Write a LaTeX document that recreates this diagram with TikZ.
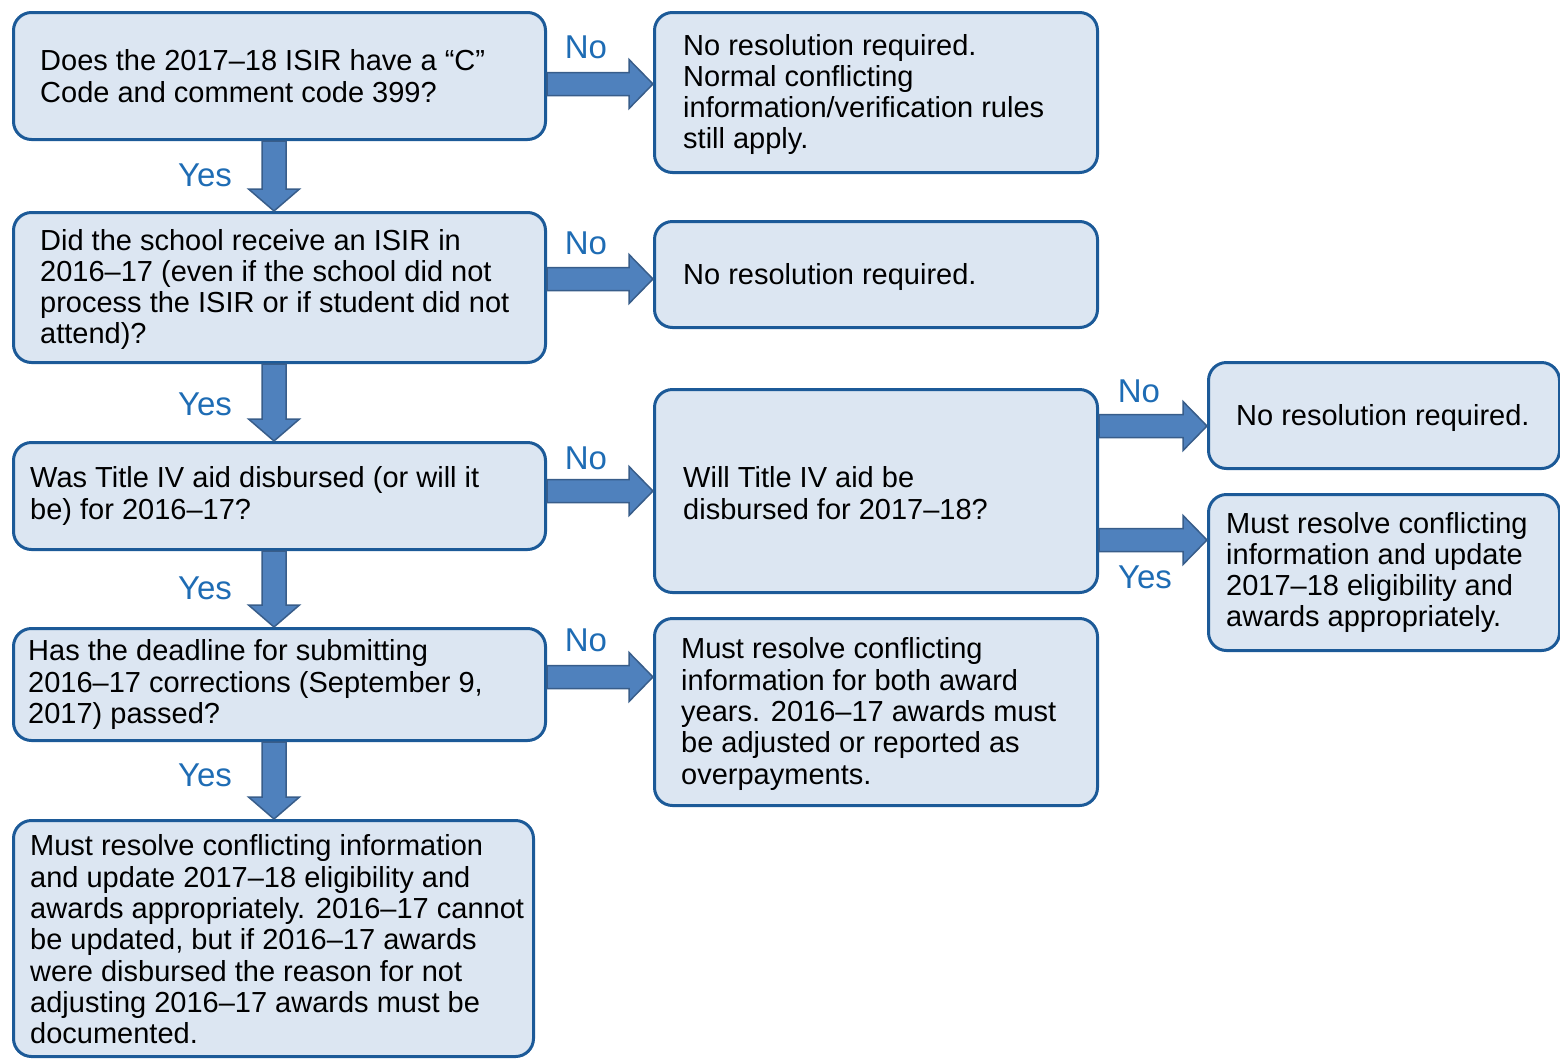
\documentclass[tikz,border=0pt]{standalone}
\usepackage{fontspec}
\setmainfont{Liberation Sans}
\usetikzlibrary{calc}
\definecolor{boxfill}{RGB}{220,230,242}
\definecolor{boxline}{RGB}{28,90,152}
\definecolor{arrfill}{RGB}{79,129,189}
\definecolor{arrline}{RGB}{56,93,138}
\definecolor{lblblue}{RGB}{30,108,180}
\tikzset{
 box/.style={draw=boxline, fill=boxfill, line width=3pt, rounded corners=18pt, inner sep=0pt, anchor=north west},
 txt/.style={anchor=west, align=left, inner sep=0pt, font=\fontsize{29}{31.3}\selectfont, text=black},
 lbl/.style={inner sep=0pt, font=\fontsize{33}{36}\selectfont, text=lblblue},
 barrow/.style={draw=arrline, fill=arrfill, line width=1.5pt, line join=miter},
}
\newcommand\harrow[3]{%
 \path (#1.east |- 0,#3) coordinate (hs) (#2.west |- 0,#3) coordinate (he);
 \draw[barrow] ($(hs)+(0,-11.5)$) -- ($(he)+(-24,-11.5)$) -- ($(he)+(-24,-24.5)$) -- (he) -- ($(he)+(-24,24.5)$) -- ($(he)+(-24,11.5)$) -- ($(hs)+(0,11.5)$) -- cycle;}
\newcommand\varrow[3]{%
 \path (#1.south -| #3,0) coordinate (vs) (#2.north -| #3,0) coordinate (ve);
 \draw[barrow] ($(vs)+(-12,0)$) -- ($(ve)+(-12,-22)$) -- ($(ve)+(-25.5,-22)$) -- (ve) -- ($(ve)+(25.5,-22)$) -- ($(ve)+(12,-22)$) -- ($(vs)+(12,0)$) -- cycle;}
\begin{document}
\begin{tikzpicture}[x=1pt,y=-1pt]
\useasboundingbox (0,0) rectangle (1560,1058);
% boxes
\node[box, minimum width=532pt, minimum height=127pt] (b1) at (12,11) {};
\node[box, minimum width=443pt, minimum height=160pt] (n1) at (653,11) {};
\node[box, minimum width=532pt, minimum height=150pt] (b2) at (12,211) {};
\node[box, minimum width=443pt, minimum height=106pt] (n2) at (653,220) {};
\node[box, minimum width=532pt, minimum height=107pt] (b3) at (12,441) {};
\node[box, minimum width=443pt, minimum height=203pt] (w) at (653,388) {};
\node[box, minimum width=351pt, minimum height=106pt] (r1) at (1207,361) {};
\node[box, minimum width=351pt, minimum height=156pt] (r2) at (1207,493) {};
\node[box, minimum width=532pt, minimum height=112pt] (b4) at (12,627) {};
\node[box, minimum width=443pt, minimum height=187pt] (m) at (653,617) {};
\node[box, minimum width=520pt, minimum height=236pt] (b5) at (12,819) {};
% texts
\node[txt] (t1) at ($(b1.west)+(28,0)$) {Does the 2017–18 ISIR have a “C”\\Code and comment code 399?};
\node[txt] (tn1) at ($(n1.west)+(30,2)$) {No resolution required.\\Normal conflicting\\information/verification rules\\still apply.};
\node[txt] (t2) at ($(b2.west)+(28,2)$) {Did the school receive an ISIR in\\2016–17 (even if the school did not\\process the ISIR or if student did not\\attend)?};
\node[txt] (tn2) at ($(n2.west)+(30,2)$) {No resolution required.};
\node[txt] (t3) at ($(b3.west)+(18,0)$) {Was Title IV aid disbursed (or will it\\be) for 2016–17?};
\node[txt] (tw) at ($(w.west)+(30,2)$) {Will Title IV aid be\\disbursed for 2017–18?};
\node[txt] (tr1) at ($(r1.west)+(29,2)$) {No resolution required.};
\node[txt] (tr2) at ($(r2.west)+(19,0)$) {Must resolve conflicting\\information and update\\2017–18 eligibility and\\awards appropriately.};
\node[txt] (t4) at ($(b4.west)+(16,0)$) {Has the deadline for submitting\\2016–17 corrections (September 9,\\2017) passed?};
\node[txt] (tm) at ($(m.west)+(28,2)$) {Must resolve conflicting\\information for both award\\years. 2016–17 awards must\\be adjusted or reported as\\overpayments.};
\node[txt] (t5) at ($(b5.west)+(18,1)$) {Must resolve conflicting information\\and update 2017–18 eligibility and\\awards appropriately. 2016–17 cannot\\be updated, but if 2016–17 awards\\were disbursed the reason for not\\adjusting 2016–17 awards must be\\documented.};
% arrows
\harrow{b1}{n1}{84}
\harrow{b2}{n2}{279}
\harrow{b3}{w}{491}
\harrow{b4}{m}{677}
\harrow{w}{r1}{426}
\harrow{w}{r2}{540}
\varrow{b1}{b2}{274}
\varrow{b2}{b3}{274}
\varrow{b3}{b4}{274}
\varrow{b4}{b5}{274}
% labels
\node[lbl] (l1) at (586,47) {No};
\node[lbl] (l2) at (586,243) {No};
\node[lbl] (l3) at (586,458) {No};
\node[lbl] (l4) at (586,640) {No};
\node[lbl] (l5) at (1139,391) {No};
\node[lbl] (l6) at (205,175) {Yes};
\node[lbl] (l7) at (205,404) {Yes};
\node[lbl] (l8) at (205,588) {Yes};
\node[lbl] (l9) at (205,775) {Yes};
\node[lbl] (l10) at (1145,577) {Yes};
\end{tikzpicture}
\end{document}
